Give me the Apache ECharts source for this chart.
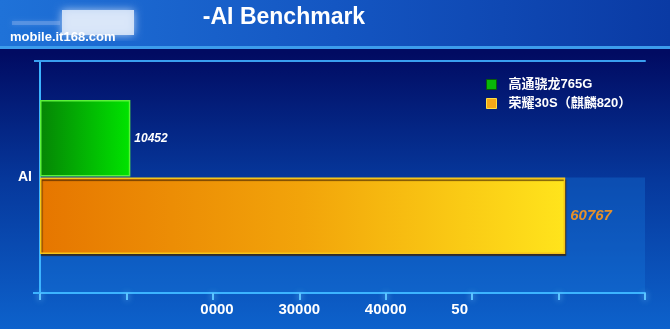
<!DOCTYPE html>
<html><head><meta charset="utf-8">
<script src="https://cdn.jsdelivr.net/npm/echarts@6/dist/echarts.min.js"></script>
<style>html,body{margin:0;padding:0;background:#000}#c{width:670px;height:329px}</style>
</head><body><div id="c"></div>
<script>
// ---- data ----
const categories = ['AI'];
const seriesNames = ['高通骁龙765G', '荣耀30S（麒麟820）'];
const snapdragonValues = [10452];
const honorValues = [60767];
const tickLabels = ['0', '10000', '20000', '30000', '40000', '50000', '60000', '70000'];
// visible part of each tick label in the reference [start, end) ; others hidden
const tickVisible = [[0,0], [0,0], [1,5], [0,5], [0,5], [0,2], [0,0], [0,0]];
const titleText = '-AI Benchmark';
const siteText = 'mobile.it168.com';

const chart = echarts.init(document.getElementById('c'), null, {renderer: 'canvas'});

const headerFill = {type: 'linear', x: 0, y: 0, x2: 670, y2: 0, global: true,
  colorStops: [{offset: 0, color: '#1f72d8'}, {offset: 0.5, color: '#1456c2'}, {offset: 1, color: '#0a3aa4'}]};

const option = {
  backgroundColor: {type: 'linear', x: 0, y: 0, x2: 0, y2: 1,
    colorStops: [{offset: 0, color: '#010a60'}, {offset: 0.16, color: '#010b62'}, {offset: 0.55, color: '#06389c'}, {offset: 1, color: '#0d62cc'}]},
  animation: false,
  grid: {left: 40, right: 25, top: 61, bottom: 36, containLabel: false},
  legend: {
    orient: 'vertical', left: 481, top: 73, itemWidth: 10, itemHeight: 10, itemGap: 6, icon: 'rect',
    data: [
      {name: seriesNames[0], itemStyle: {color: '#08b808', borderColor: '#0a5a0a', borderWidth: 1}},
      {name: seriesNames[1], itemStyle: {color: '#f5a818', borderColor: '#ffe040', borderWidth: 1}}
    ],
    textStyle: {color: '#ffffff', fontSize: 13, fontWeight: 'bold', fontFamily: 'Liberation Sans, Noto Sans CJK SC', padding: [0, 0, 0, 7]}
  },
  xAxis: [{
    type: 'value', min: 0, max: 70000, interval: 10000,
    splitLine: {show: false},
    axisLine: {show: true, lineStyle: {color: '#3cb4ff', width: 2}},
    axisTick: {show: true, length: 7, lineStyle: {color: '#5cc4ff', width: 2, shadowBlur: 6, shadowColor: '#7fd4ff'}},
    axisLabel: {
      margin: 9,
      formatter: function (v) {
        const i = Math.round(v / 10000);
        const t = tickLabels[i] || '';
        const r = tickVisible[i] || [0, 0];
        if (r[1] <= r[0]) return '';
        const pre = t.slice(0, r[0]), vis = t.slice(r[0], r[1]), post = t.slice(r[1]);
        return (pre ? '{h|' + pre + '}' : '') + '{a|' + vis + '}' + (post ? '{h|' + post + '}' : '');
      },
      rich: {
        a: {color: '#ffffff', fontSize: 15, fontWeight: 'bold', fontFamily: 'Liberation Sans'},
        h: {color: 'rgba(0,0,0,0)', fontSize: 15, fontWeight: 'bold', fontFamily: 'Liberation Sans'}
      }
    }
  }, {
    type: 'value', position: 'top', min: 0, max: 70000, interval: 10000,
    splitLine: {show: false}, axisTick: {show: false}, axisLabel: {show: false},
    axisLine: {show: true, lineStyle: {color: '#3a9ff0', width: 2}}
  }],
  yAxis: {
    type: 'category', data: categories, inverse: true,
    axisLine: {show: true, lineStyle: {color: '#3cb4ff', width: 2}},
    axisTick: {show: false},
    axisLabel: {color: '#ffffff', fontSize: 14, fontWeight: 'bold', fontFamily: 'Liberation Sans', margin: 8}
  },
  series: [
    {
      name: seriesNames[0], type: 'bar', data: snapdragonValues, barWidth: '33%', barGap: '1%',
      itemStyle: {
        color: {type: 'linear', x: 0, y: 0, x2: 1, y2: 0, colorStops: [{offset: 0, color: '#058505'}, {offset: 1, color: '#00e400'}]},
        borderColor: '#5cf23a', borderWidth: 1.5
      },
      label: {show: true, position: 'right', distance: 4, color: '#ffffff', fontSize: 12, fontWeight: 'bold', fontStyle: 'italic', fontFamily: 'Liberation Sans'}
    },
    {
      name: seriesNames[1], type: 'bar', data: honorValues, barWidth: '33%', barGap: '1%',
      itemStyle: {
        color: {type: 'linear', x: 0, y: 0, x2: 1, y2: 0, colorStops: [{offset: 0, color: '#e67600'}, {offset: 0.5, color: '#f2a40a'}, {offset: 1, color: '#ffe41c'}]},
        borderColor: '#f4c41a', borderWidth: 1.5,
        shadowColor: 'rgba(60,30,0,0.7)', shadowOffsetY: 2, shadowOffsetX: 1, shadowBlur: 1
      },
      label: {show: true, position: 'right', distance: 5, color: '#e4902c', fontSize: 15, fontWeight: 'bold', fontStyle: 'italic', fontFamily: 'Liberation Sans'}
    }
  ]
};
chart.setOption(option);

// decorations placed from the chart's own scales
const p0 = chart.convertToPixel({xAxisIndex: 0}, 0);
const pMax = chart.convertToPixel({xAxisIndex: 0}, 70000);
const gridRect = chart.getModel().getComponent('grid').coordinateSystem.getRect();
const bottomY = gridRect.y + gridRect.height;
const topY = gridRect.y;
const panelTop = topY + gridRect.height * 0.502;

chart.setOption({
  graphic: [
    {type: 'rect', z: -10, silent: true, shape: {x: 0, y: 0, width: 670, height: 47}, style: {fill: headerFill}},
    {type: 'rect', z: -10, silent: true, shape: {x: 0, y: 46, width: 670, height: 3}, style: {fill: '#3c9cec'}},
    {type: 'rect', z: -9, silent: true, shape: {x: p0, y: panelTop, width: pMax - p0, height: bottomY - panelTop},
      style: {fill: 'rgba(25,125,225,0.32)'}},
    {type: 'rect', z: -8, silent: true, shape: {x: 62, y: 10, width: 72, height: 25},
      style: {fill: 'rgba(225,235,250,0.85)', shadowBlur: 8, shadowColor: 'rgba(225,235,250,0.9)'}},
    {type: 'rect', z: -8, silent: true, shape: {x: 12, y: 21, width: 48, height: 4},
      style: {fill: 'rgba(160,190,240,0.35)', shadowBlur: 4, shadowColor: 'rgba(200,220,250,0.5)'}},
    {type: 'text', z: 50, silent: true, x: 10, y: 31, style: {text: siteText, fill: '#ffffff', font: 'bold 13px Liberation Sans'}},
    {type: 'rect', z: 60, silent: true, shape: {x: 0, y: 41, width: 200, height: 5}, style: {fill: headerFill}},
    {type: 'text', z: 50, silent: true, x: 284, y: 18, style: {text: titleText, fill: '#ffffff', font: 'bold 23px Liberation Sans', align: 'center', verticalAlign: 'middle'}},
    {type: 'line', z: 5, silent: true, shape: {x1: p0 - 7, y1: bottomY, x2: p0, y2: bottomY}, style: {stroke: '#3cb4ff', lineWidth: 2}},
    {type: 'line', z: 5, silent: true, shape: {x1: p0 - 6, y1: topY, x2: p0, y2: topY}, style: {stroke: '#3a9ff0', lineWidth: 2}}
  ]
});
</script>
</body></html>
